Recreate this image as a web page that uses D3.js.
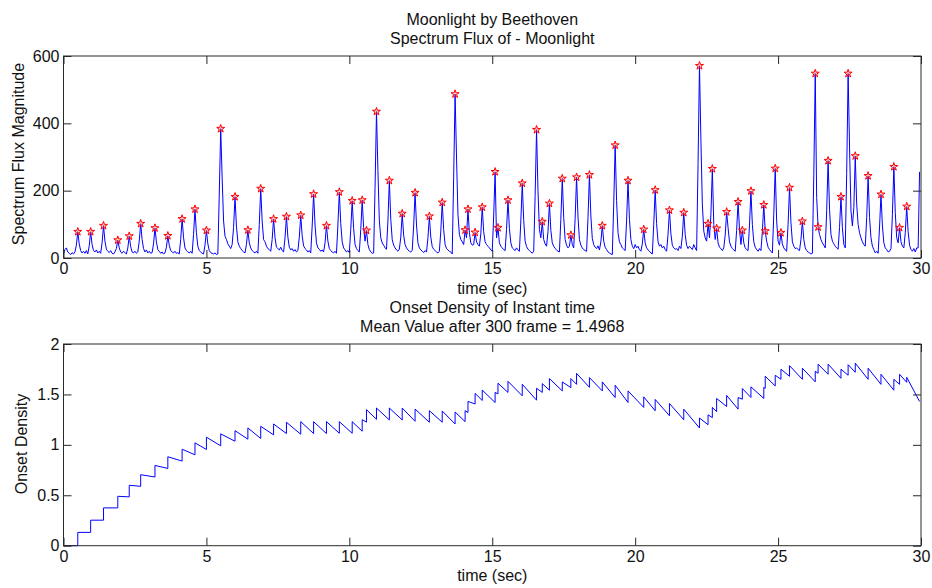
<!DOCTYPE html>
<html>
<head>
<meta charset="utf-8">
<script src="https://cdn.jsdelivr.net/npm/d3@7"></script>
<style>
  body { margin: 0; background: #fff; }
  svg { display: block; font-family: "Liberation Sans", Arial, Helvetica, sans-serif; }
</style>
</head>
<body>
<svg id="chart" width="932" height="588"></svg>
<script>
// Spectrum flux, one value per 0.05 s frame (0 .. 29.95 s)
const frameStep = 0.05;
const flux = [
  12,25,30,18,14,10,16,12,18,38,78,42,22,15,20,14,22,12,36,78,        // 0 s
  40,22,18,24,15,20,14,45,96,50,26,20,16,22,14,12,18,28,53,30,        // 1 s
  18,14,20,16,12,30,65,34,18,15,20,14,18,50,102,55,28,18,24,15,       // 2 s
  20,14,16,42,89,48,25,20,14,18,12,15,32,66,38,22,18,15,20,14,        // 3 s
  16,12,55,116,60,30,22,18,15,20,14,70,145,75,35,22,18,14,12,38,      // 4 s
  82,42,22,16,14,12,15,10,12,190,384,240,110,65,55,42,35,28,40,90,    // 5 s
  182,95,48,35,28,22,18,15,40,83,45,30,22,18,15,20,14,100,206,110,    // 6 s
  55,48,35,28,25,20,55,116,60,32,28,24,32,22,18,60,123,62,32,24,      // 7 s
  28,20,25,18,22,62,127,66,36,28,24,18,22,15,95,190,98,45,30,26,      // 8 s
  20,24,18,45,96,50,28,22,18,15,20,14,98,196,102,48,30,24,18,22,      // 9 s
  16,85,170,88,40,28,22,18,85,172,90,50,82,40,25,18,14,15,210,435,    // 10 s
  260,110,60,45,38,30,26,110,230,115,55,38,30,24,20,26,62,132,68,40,  // 11 s
  30,24,20,18,22,95,194,98,45,30,24,20,16,22,18,60,124,62,34,26,      // 12 s
  22,18,15,20,80,165,84,40,28,24,20,18,12,240,487,300,130,70,55,48,   // 13 s
  40,83,60,145,75,45,38,40,76,48,40,35,72,151,78,48,40,35,30,24,      // 14 s
  20,125,256,60,90,45,35,30,25,22,85,172,88,45,30,26,22,30,24,20,     // 15 s
  110,222,112,50,34,26,22,18,14,20,185,381,200,85,60,108,55,42,35,78, // 16 s
  162,82,45,35,28,24,20,18,115,236,120,55,38,30,35,68,40,30,118,240,  // 17 s
  122,55,38,30,25,22,20,120,247,125,58,40,32,28,36,24,48,96,50,32,    // 18 s
  25,18,15,12,10,160,335,170,75,48,40,30,26,22,110,230,115,55,35,28,  // 19 s
  40,30,35,25,20,42,85,45,30,24,20,15,12,100,202,102,48,35,40,30,     // 20 s
  35,25,20,70,142,72,38,30,26,28,22,35,28,65,135,70,38,28,35,30,      // 21 s
  25,40,30,22,280,571,350,160,80,60,50,102,60,130,265,100,55,88,45,32,// 22 s
  28,22,30,68,137,90,48,35,28,24,20,82,167,85,40,82,45,30,25,22,      // 23 s
  98,199,100,48,32,25,20,28,22,78,158,80,50,32,25,20,15,130,266,110,  // 24 s
  50,38,75,42,30,24,20,100,209,105,48,35,28,30,25,22,55,109,55,30,    // 25 s
  22,18,15,12,14,250,548,180,92,70,55,45,38,30,140,289,145,70,50,42,  // 26 s
  35,30,26,90,182,90,40,30,250,548,330,140,95,150,303,160,100,75,60,48, // 27 s
  40,35,120,244,120,60,35,25,15,20,14,92,189,95,45,30,25,18,20,28,    // 28 s
  130,271,135,60,45,90,48,35,30,75,153,78,38,25,20,28,18,30,30,256    // 29 s
];

// Frames at which an onset was picked (index into flux)
const onsetFrames = [
  10,19,28,38,46,54,64,73,83,92,100,110,120,129,138,147,156,166,175,184,
  193,202,209,212,219,228,237,246,256,265,274,281,283,288,293,302,304,311,321,331,
  335,340,349,355,359,368,377,386,395,406,414,424,434,445,451,454,457,464,472,475,
  481,490,491,498,502,508,517,526,528,535,544,549,554,563,572,581,585,590
];

// Onset density just before and just after each onset
const densityBefore = [
  0.000,0.132,0.253,0.375,0.484,0.589,0.681,0.766,0.839,0.901,
  0.954,0.990,1.036,1.056,1.063,1.099,1.112,1.105,1.112,1.112,
  1.115,1.115,1.135,1.225,1.253,1.247,1.247,1.234,1.224,1.224,
  1.207,1.230,1.320,1.405,1.440,1.420,1.505,1.520,1.486,1.443,
  1.520,1.542,1.535,1.568,1.600,1.570,1.535,1.469,1.420,1.371,
  1.338,1.289,1.249,1.167,1.200,1.270,1.330,1.380,1.354,1.453,
  1.470,1.460,1.560,1.584,1.650,1.680,1.650,1.625,1.710,1.700,
  1.660,1.690,1.720,1.650,1.600,1.542,1.600,1.620
];
const densityAfter = [
  0.132,0.253,0.375,0.490,0.599,0.704,0.796,0.882,0.957,1.020,
  1.076,1.109,1.141,1.168,1.184,1.207,1.224,1.230,1.230,1.230,
  1.230,1.230,1.250,1.349,1.365,1.365,1.365,1.355,1.339,1.336,
  1.326,1.339,1.431,1.510,1.543,1.520,1.611,1.630,1.601,1.561,
  1.607,1.657,1.624,1.657,1.709,1.667,1.624,1.591,1.535,1.476,
  1.450,1.410,1.354,1.266,1.298,1.371,1.460,1.490,1.469,1.558,
  1.575,1.570,1.680,1.690,1.750,1.785,1.760,1.730,1.800,1.800,
  1.750,1.795,1.810,1.760,1.700,1.650,1.700,1.670
];
const densityEndTime = 29.95;
const densityEndValue = 1.43;

const timeTicks = [0, 5, 10, 15, 20, 25, 30];
const fluxTicks = [0, 200, 400, 600];
const densityTicks = [0, 0.5, 1, 1.5, 2];

const svg = d3.select("#chart");
const left = 63.5, right = 921;
const panels = [
  { top: 56, bottom: 258, domain: [0, 600], ticks: fluxTicks },
  { top: 344, bottom: 545.7, domain: [0, 2], ticks: densityTicks }
];

const x = d3.scaleLinear().domain([0, 30]).range([left, right]);
const y1 = d3.scaleLinear().domain(panels[0].domain).range([panels[0].bottom, panels[0].top]);
const y2 = d3.scaleLinear().domain(panels[1].domain).range([panels[1].bottom, panels[1].top]);

const FONT = 16;
const TICK = 8;

function styleAxis(g) {
  g.attr("font-family", null).attr("font-size", FONT);
  g.select(".domain").remove();
  g.selectAll(".tick line").attr("stroke", "#262626");
  g.selectAll(".tick text").attr("fill", "#111");
}

function drawFrame(y, ticks, fmt) {
  const [yb, yt] = y.range();
  svg.append("g").attr("transform", `translate(0,${yb})`)
    .call(d3.axisBottom(x).tickValues(timeTicks).tickSizeInner(-TICK).tickSizeOuter(0).tickPadding(5))
    .call(styleAxis);
  svg.append("g").attr("transform", `translate(0,${yt})`)
    .call(d3.axisTop(x).tickValues(timeTicks).tickSizeInner(-TICK).tickSizeOuter(0).tickFormat(""))
    .call(styleAxis);
  svg.append("g").attr("transform", `translate(${left},0)`)
    .call(d3.axisLeft(y).tickValues(ticks).tickSizeInner(-TICK).tickSizeOuter(0).tickPadding(4).tickFormat(fmt))
    .call(styleAxis);
  svg.append("g").attr("transform", `translate(${right},0)`)
    .call(d3.axisRight(y).tickValues(ticks).tickSizeInner(-TICK).tickSizeOuter(0).tickFormat(""))
    .call(styleAxis);
  svg.append("rect")
    .attr("x", left).attr("y", yt)
    .attr("width", right - left).attr("height", yb - yt)
    .attr("fill", "none").attr("stroke", "#2a2a2a").attr("stroke-width", 1);
}

// ---- Spectrum flux panel ----
svg.append("path")
  .datum(flux)
  .attr("fill", "none")
  .attr("stroke", "#0000ff")
  .attr("stroke-width", 1)
  .attr("stroke-linejoin", "round")
  .attr("d", d3.line().x((d, i) => x(i * frameStep)).y(d => y1(d)));

const star = d3.symbol().type(d3.symbolStar).size(20);
svg.append("g").selectAll("path")
  .data(onsetFrames)
  .join("path")
  .attr("transform", f => `translate(${x(f * frameStep)},${y1(flux[f])})`)
  .attr("d", star)
  .attr("fill", "rgba(255,120,120,0.35)")
  .attr("stroke", "#ff0000")
  .attr("stroke-width", 1);

drawFrame(y1, fluxTicks, d3.format("d"));

// ---- Onset density panel ----
const densityPts = [[0, 0]];
onsetFrames.forEach((f, i) => {
  densityPts.push([f * frameStep, densityBefore[i]]);
  densityPts.push([f * frameStep, densityAfter[i]]);
});
densityPts.push([densityEndTime, densityEndValue]);

svg.append("path")
  .datum(densityPts)
  .attr("fill", "none")
  .attr("stroke", "#0000ff")
  .attr("stroke-width", 1)
  .attr("d", d3.line().x(d => x(d[0])).y(d => y2(d[1])));

drawFrame(y2, densityTicks, d3.format("~g"));

// ---- Titles and labels ----
const cx = (left + right) / 2;
const texts = [
  { t: "Moonlight by Beethoven", x: cx, y: 25 },
  { t: "Spectrum Flux of - Moonlight", x: cx, y: 44 },
  { t: "time (sec)", x: cx, y: 294 },
  { t: "Onset Density of Instant time", x: cx, y: 313 },
  { t: "Mean Value after 300 frame = 1.4968", x: cx, y: 331.5 },
  { t: "time (sec)", x: cx, y: 581 }
];
svg.append("g").selectAll("text")
  .data(texts)
  .join("text")
  .attr("x", d => d.x).attr("y", d => d.y)
  .attr("text-anchor", "middle")
  .attr("font-size", FONT)
  .attr("fill", "#111")
  .text(d => d.t);

svg.append("text")
  .attr("transform", "translate(23.5,154) rotate(-90)")
  .attr("text-anchor", "middle").attr("font-size", FONT).attr("fill", "#111")
  .text("Spectrum Flux Magnitude");
svg.append("text")
  .attr("transform", "translate(27,444) rotate(-90)")
  .attr("text-anchor", "middle").attr("font-size", FONT).attr("fill", "#111")
  .text("Onset Density");
</script>
</body>
</html>
